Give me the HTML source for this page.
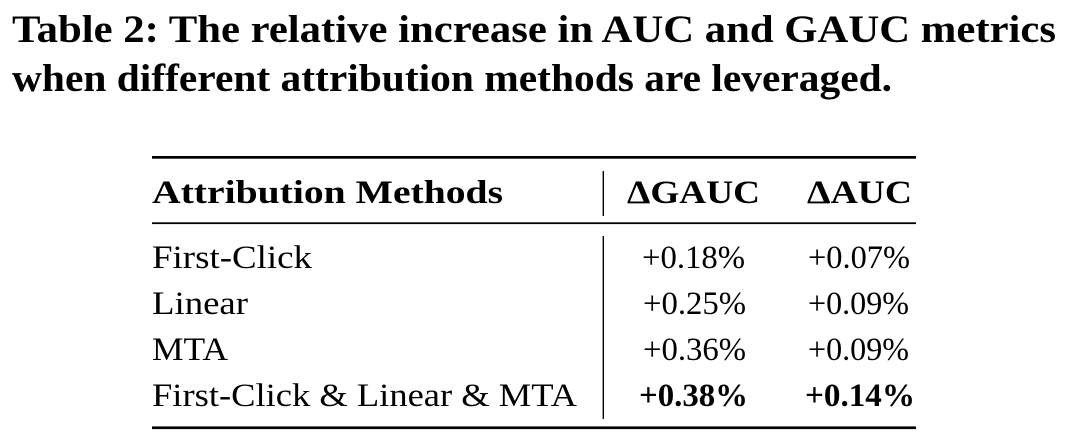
<!DOCTYPE html>
<html>
<head>
<meta charset="utf-8">
<style>
  html, body { margin: 0; padding: 0; background: #ffffff; }
  body { width: 1080px; height: 439px; overflow: hidden; }
  svg { display: block; }
  text { font-family: "Liberation Serif", "DejaVu Serif", serif; fill: #000; }
  .t { font-weight: bold; font-size: 39px; }
  .h { font-weight: bold; font-size: 32.6px; }
  .r { font-weight: normal; font-size: 32.6px; }
  .b { font-weight: bold; font-size: 32.6px; }
</style>
</head>
<body>
<svg width="1080" height="439" viewBox="0 0 1080 439" xmlns="http://www.w3.org/2000/svg">
  <rect x="0" y="0" width="1080" height="439" fill="#ffffff"/>

  <!-- Caption -->
  <text class="t" x="12" y="42" textLength="1044" lengthAdjust="spacingAndGlyphs">Table 2: The relative increase in AUC and GAUC metrics</text>
  <text class="t" x="12" y="91" textLength="880" lengthAdjust="spacingAndGlyphs">when different attribution methods are leveraged.</text>

  <!-- Rules -->
  <rect x="152" y="156" width="764" height="2.7" fill="#000"/>
  <rect x="152" y="222.3" width="764" height="1.8" fill="#000"/>
  <rect x="152" y="426.4" width="764" height="2.7" fill="#000"/>

  <!-- Vertical separators -->
  <rect x="602.6" y="171" width="1.4" height="45" fill="#000"/>
  <rect x="602.6" y="236" width="1.4" height="183" fill="#000"/>

  <!-- Header -->
  <text class="h" x="152" y="203" textLength="351" lengthAdjust="spacingAndGlyphs">Attribution Methods</text>
  <text class="h" x="627" y="203" textLength="133" lengthAdjust="spacingAndGlyphs">ΔGAUC</text>
  <text class="h" x="807" y="203" textLength="105" lengthAdjust="spacingAndGlyphs">ΔAUC</text>

  <!-- Row 1 -->
  <text class="r" x="152" y="268" textLength="160" lengthAdjust="spacingAndGlyphs">First-Click</text>
  <text class="r" x="642" y="268" textLength="103" lengthAdjust="spacingAndGlyphs">+0.18%</text>
  <text class="r" x="808" y="268" textLength="102" lengthAdjust="spacingAndGlyphs">+0.07%</text>

  <!-- Row 2 -->
  <text class="r" x="152" y="314" textLength="96" lengthAdjust="spacingAndGlyphs">Linear</text>
  <text class="r" x="643" y="314" textLength="103" lengthAdjust="spacingAndGlyphs">+0.25%</text>
  <text class="r" x="808" y="314" textLength="101" lengthAdjust="spacingAndGlyphs">+0.09%</text>

  <!-- Row 3 -->
  <text class="r" x="152" y="360" textLength="76" lengthAdjust="spacingAndGlyphs">MTA</text>
  <text class="r" x="643" y="360" textLength="103" lengthAdjust="spacingAndGlyphs">+0.36%</text>
  <text class="r" x="808" y="360" textLength="101" lengthAdjust="spacingAndGlyphs">+0.09%</text>

  <!-- Row 4 -->
  <text class="r" x="152" y="406" textLength="425" lengthAdjust="spacingAndGlyphs">First-Click &amp; Linear &amp; MTA</text>
  <text class="b" x="639" y="406" textLength="109" lengthAdjust="spacingAndGlyphs">+0.38%</text>
  <text class="b" x="805" y="406" textLength="110" lengthAdjust="spacingAndGlyphs">+0.14%</text>
</svg>
</body>
</html>
